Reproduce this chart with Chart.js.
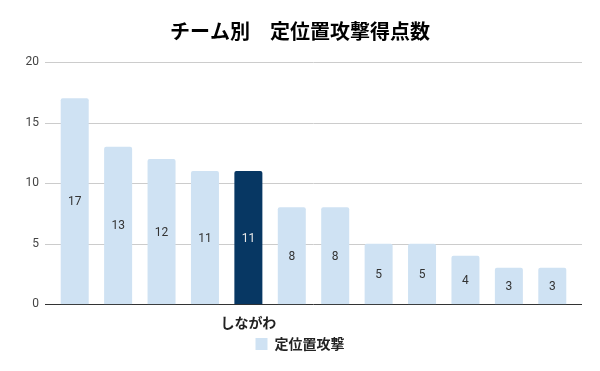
<!DOCTYPE html>
<html><head><meta charset="utf-8">
<script src="https://cdn.jsdelivr.net/npm/chart.js@4"></script>
<style>html,body{margin:0;padding:0;background:#fff}#wrap{width:600px;height:371px}</style>
</head><body><div id="wrap"><canvas id="c" width="600" height="371"></canvas></div>
<script>
const categories = ["", "", "", "", "しながわ", "", "", "", "", "", "", ""];
const values = [17, 13, 12, 11, 11, 8, 8, 5, 5, 4, 3, 3];
const barColors = ["#cfe2f3","#cfe2f3","#cfe2f3","#cfe2f3","#073763","#cfe2f3","#cfe2f3","#cfe2f3","#cfe2f3","#cfe2f3","#cfe2f3","#cfe2f3"];
const labelColors = ["#333","#333","#333","#333","#e8e8e8","#333","#333","#333","#333","#333","#333","#333"];
const seriesName = "定位置攻撃";
const titleText = "チーム別　定位置攻撃得点数";
const yTicks = [0, 5, 10, 15, 20];

const gridPlugin = {
  id: 'grid',
  beforeDatasetsDraw(chart) {
    const y = chart.scales.y, ctx = chart.ctx;
    ctx.save();
    y.ticks.forEach(t => {
      const py = Math.round(y.getPixelForValue(t.value)) + 0.5;
      ctx.strokeStyle = t.value === 0 ? '#333' : '#ccc';
      ctx.lineWidth = 1;
      ctx.beginPath(); ctx.moveTo(45, py); ctx.lineTo(582, py); ctx.stroke();
    });
    ctx.restore();
  }
};
const labelPlugin = {
  id: 'vals',
  afterDatasetsDraw(chart) {
    const ctx = chart.ctx, meta = chart.getDatasetMeta(0);
    ctx.save();
    ctx.font = '12px Roboto, Arial, sans-serif';
    ctx.textAlign = 'center'; ctx.textBaseline = 'middle';
    meta.data.forEach((el, i) => {
      ctx.fillStyle = labelColors[i];
      ctx.fillText(String(values[i]), el.x, (el.y + el.base) / 2 + 1);
    });
    ctx.restore();
  }
};

new Chart(document.getElementById('c'), {
  type: 'bar',
  data: { labels: categories, datasets: [{ label: seriesName, data: values, backgroundColor: barColors,
    borderRadius: 2, borderSkipped: 'bottom', categoryPercentage: 1, barPercentage: 0.645 }] },
  options: {
    responsive: false, animation: false,
    layout: { padding: { left: 0, right: 0, top: 0, bottom: 10 } },
    plugins: {
      title: { display: true, text: titleText, color: '#000', font: { family: "'Noto Sans CJK JP', sans-serif", size: 20, weight: 'bold' }, padding: { top: 19, bottom: 19 } },
      legend: { position: 'bottom', labels: { color: '#222', boxWidth: 12, boxHeight: 12, padding: 4,
        generateLabels: () => [{ text: seriesName, fillStyle: '#cfe2f3', strokeStyle: '#cfe2f3', lineWidth: 0, fontColor: '#222' }],
        font: { family: "'Noto Sans CJK JP', sans-serif", size: 14, weight: 'bold' } } },
      tooltip: { enabled: false }
    },
    scales: {
      x: { grid: { display: false }, border: { display: false },
        ticks: { color: '#222', maxRotation: 0, autoSkip: false, padding: 2, font: { family: "'Noto Sans CJK JP', sans-serif", size: 14, weight: 'bold' } } },
      y: { min: 0, max: 20, afterBuildTicks: s => { s.ticks = yTicks.map(v => ({ value: v })); },
        grid: { display: false }, border: { display: false },
        afterFit: s => { s.width = 53; },
        ticks: { color: '#444', padding: 6, font: { family: "Roboto, Arial, sans-serif", size: 12 } } },
      yRight: { position: 'right', display: true, grid: { display: false }, border: { display: false },
        ticks: { display: false }, afterFit: s => { s.width = 26; } }
    }
  },
  plugins: [gridPlugin, labelPlugin]
});
</script></body></html>
